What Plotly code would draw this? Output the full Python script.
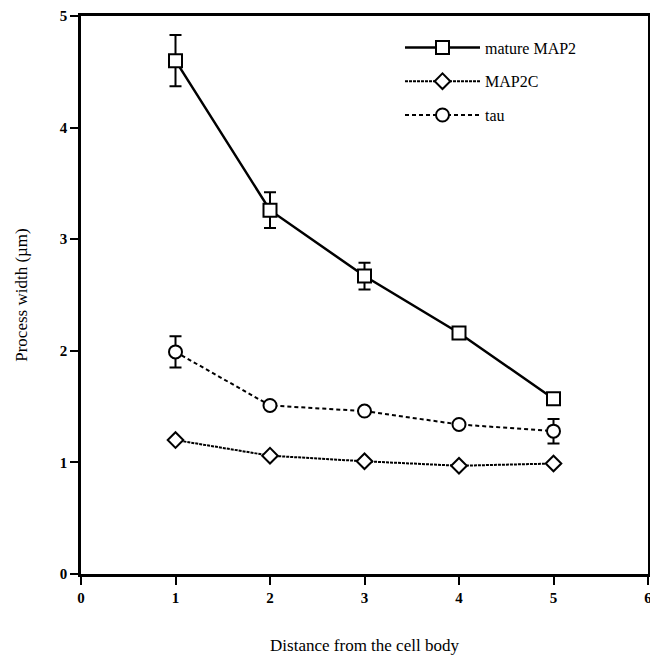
import plotly.graph_objects as go

distance = [1, 2, 3, 4, 5]
mature_map2 = [4.60, 3.26, 2.67, 2.16, 1.57]
mature_map2_err = [0.23, 0.16, 0.12, 0.0, 0.0]
map2c = [1.20, 1.06, 1.01, 0.97, 0.99]
tau = [1.99, 1.51, 1.46, 1.34, 1.28]
tau_err = [0.14, 0.0, 0.0, 0.0, 0.11]

x_ticks = [0, 1, 2, 3, 4, 5, 6]
y_ticks = [0, 1, 2, 3, 4, 5]

serif = "Liberation Serif, Times New Roman, serif"

fig = go.Figure()

fig.add_trace(go.Scatter(
    x=distance, y=mature_map2, name="mature MAP2", mode="lines+markers", legendgroup="a",
    line=dict(color="black", width=2.5),
    marker=dict(symbol="square", size=13, color="white", line=dict(color="black", width=2)),
    error_y=dict(type="data", array=mature_map2_err, color="black", thickness=2, width=6),
))
fig.add_trace(go.Scatter(
    x=distance, y=map2c, name="MAP2C", mode="lines+markers", legendgroup="b",
    line=dict(color="black", width=2, dash="3px,1px"),
    marker=dict(symbol="diamond", size=12, color="white", line=dict(color="black", width=2)),
))
fig.add_trace(go.Scatter(
    x=distance, y=tau, name="tau", mode="lines+markers", legendgroup="c",
    line=dict(color="black", width=2, dash="4px,3px"),
    marker=dict(symbol="circle", size=13, color="white", line=dict(color="black", width=2)),
    error_y=dict(type="data", array=tau_err, color="black", thickness=2, width=6),
))

fig.update_layout(
    width=650, height=657,
    margin=dict(l=81, r=2, t=16, b=83),
    paper_bgcolor="white", plot_bgcolor="white",
    font=dict(family=serif, color="black", size=15),
    showlegend=True,
    legend=dict(x=0.5626, y=0.974, xanchor="left", yanchor="top",
                bgcolor="rgba(0,0,0,0)", font=dict(size=16, family=serif),
                tracegroupgap=10, itemwidth=75),
    xaxis=dict(
        range=[0, 6], tickvals=x_ticks, ticktext=[str(v) for v in x_ticks],
        showgrid=False, zeroline=False, automargin=False, ticklabeloverflow="allow",
        showline=True, linecolor="black", linewidth=2.5, mirror=True,
        ticks="outside", ticklen=8, tickwidth=2, tickcolor="black",
        tickfont=dict(family=serif, size=15, weight="bold"),
        title=dict(text="Distance from the cell body", font=dict(family=serif, size=17), standoff=35),
    ),
    yaxis=dict(
        range=[0, 5], tickvals=y_ticks, ticktext=[str(v) for v in y_ticks],
        showgrid=False, zeroline=False, automargin=False, ticklabeloverflow="allow",
        showline=True, linecolor="black", linewidth=2.5, mirror=True,
        ticks="outside", ticklen=8, tickwidth=2, tickcolor="black",
        tickfont=dict(family=serif, size=15, weight="bold"),
        title=dict(text="Process width (µm)", font=dict(family=serif, size=17), standoff=28),
    ),
)

fig.write_html(
    "out.html",
    config={"displayModeBar": False},
    post_script="document.body.style.margin='0';document.body.style.overflow='hidden';",
)
